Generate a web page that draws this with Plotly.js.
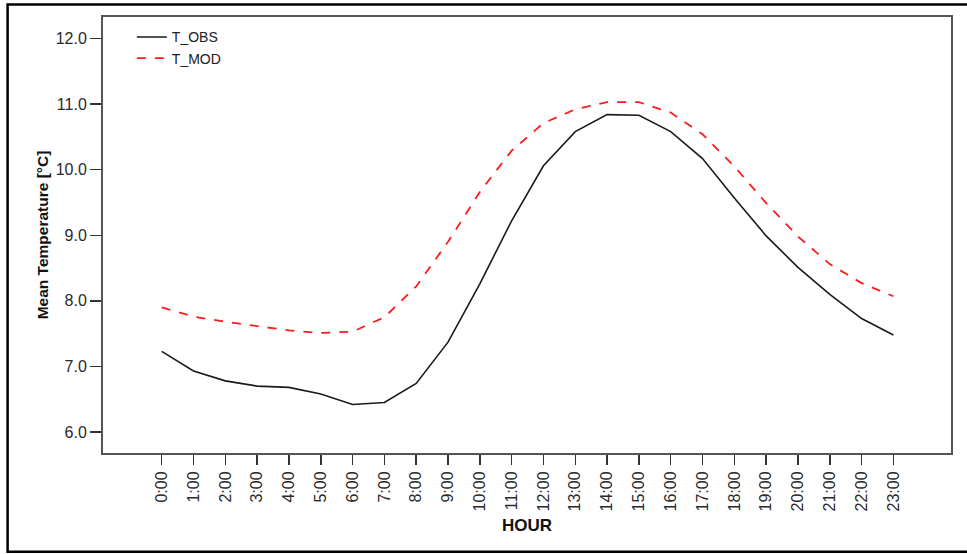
<!DOCTYPE html>
<html>
<head>
<meta charset="utf-8">
<script src="https://cdn.plot.ly/plotly-3.0.1.min.js"></script>
<style>html,body{margin:0;padding:0;background:#fff;}#chart{width:967px;height:554px;}</style>
</head>
<body>
<div id="chart"></div>
<script>
const hours = ["0:00","1:00","2:00","3:00","4:00","5:00","6:00","7:00","8:00","9:00","10:00","11:00",
               "12:00","13:00","14:00","15:00","16:00","17:00","18:00","19:00","20:00","21:00","22:00","23:00"];
const tObs = [7.23, 6.93, 6.78, 6.70, 6.68, 6.58, 6.42, 6.45, 6.74, 7.37, 8.26, 9.22,
              10.06, 10.58, 10.84, 10.83, 10.58, 10.17, 9.57, 8.99, 8.51, 8.10, 7.73, 7.48];
const tMod = [7.90, 7.76, 7.68, 7.61, 7.55, 7.51, 7.53, 7.75, 8.22, 8.90, 9.66, 10.29,
              10.71, 10.92, 11.03, 11.03, 10.87, 10.54, 10.05, 9.49, 8.98, 8.56, 8.27, 8.07];
const yTicks = [6, 7, 8, 9, 10, 11, 12];

const traces = [
  {x: hours, y: tObs, name: "T_OBS", type: "scatter", mode: "lines",
   line: {color: "#1a1a1a", width: 1.6}},
  {x: hours, y: tMod, name: "T_MOD", type: "scatter", mode: "lines",
   line: {color: "#ff1a1a", width: 1.8, dash: "dash"}}
];

const layout = {
  width: 967, height: 554,
  margin: {l: 103, r: 16, t: 17, b: 101, pad: 0},
  paper_bgcolor: "#ffffff", plot_bgcolor: "#ffffff",
  font: {family: "Liberation Sans, Arial, sans-serif", color: "#222", size: 14},
  showlegend: true,
  legend: {x: 0.034, y: 0.99, xanchor: "left", yanchor: "top", bgcolor: "rgba(0,0,0,0)",
           font: {size: 14, color: "#222"}, tracegroupgap: 0, itemwidth: 30},
  xaxis: {
    type: "category", range: [-1.845, 24.81], fixedrange: true,
    tickangle: -90, ticks: "outside", ticklen: 10, tickwidth: 1.5, tickcolor: "#333",
    showline: true, linecolor: "#555", linewidth: 2, mirror: true, showgrid: false, zeroline: false,
    tickfont: {size: 16, color: "#2a2a2a"},
    title: {text: "<b>HOUR</b>", font: {size: 17, color: "#111"}, standoff: 9}
  },
  yaxis: {
    range: [5.68, 12.328], fixedrange: true,
    tickvals: yTicks, tickformat: ".1f",
    ticks: "outside", ticklen: 11, tickwidth: 1.5, tickcolor: "#333",
    showline: true, linecolor: "#555", linewidth: 2, mirror: true, showgrid: false, zeroline: false,
    tickfont: {size: 16, color: "#2a2a2a"},
    title: {text: "<b>Mean Temperature [°C]</b>", font: {size: 15.5, color: "#111"}, standoff: 3}
  },
  shapes: [
    {type: "rect", xref: "paper", yref: "paper", x0: -0.1125, x1: 1.08, y0: -0.2265, y1: 1.0285,
     line: {color: "#000", width: 2.5}, fillcolor: "rgba(0,0,0,0)", layer: "below"}
  ]
};

Plotly.newPlot("chart", traces, layout, {displayModeBar: false, staticPlot: true});
</script>
</body>
</html>
